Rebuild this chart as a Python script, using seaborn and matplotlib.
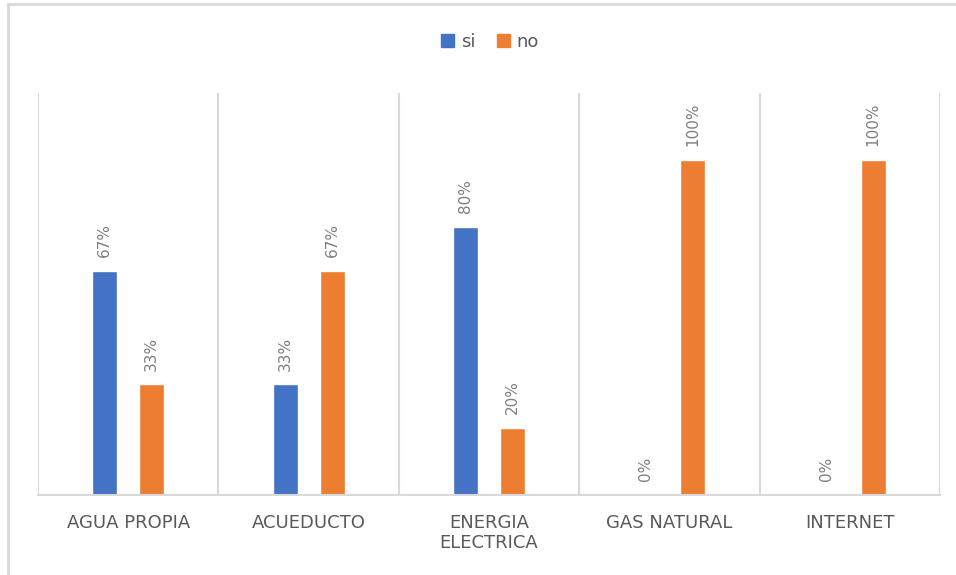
import pandas as pd
import numpy as np
import matplotlib.pyplot as plt
import seaborn as sns
from matplotlib.lines import Line2D

categories = ["AGUA PROPIA", "ACUEDUCTO", "ENERGIA\nELECTRICA", "GAS NATURAL", "INTERNET"]
si_values = [0.67, 0.33, 0.80, 0.00, 0.00]
no_values = [0.33, 0.67, 0.20, 1.00, 1.00]
series_names = ["si", "no"]
series_colors = ["#4472C4", "#ED7D31"]

GRID_COLOR = "#d9d9d9"
TEXT_COLOR = "#595959"
LABEL_COLOR = "#7f7f7f"


def build_frame():
    df = pd.DataFrame({"category": categories, "si": si_values, "no": no_values})
    return df.melt(id_vars="category", var_name="serie", value_name="valor")


def main():
    sns.set_style("white")
    plt.rcParams["font.family"] = ["DejaVu Sans"]

    data = build_frame()
    fig = plt.figure(figsize=(9.56, 5.75), dpi=100)
    ax = fig.add_axes([38 / 956, 80 / 575, 902 / 956, 402 / 575])

    sns.barplot(data=data, x="category", y="valor", hue="serie",
                hue_order=series_names, palette=series_colors,
                width=0.52, gap=0.465, saturation=1, legend=False, ax=ax)

    for container in ax.containers:
        ax.bar_label(container, labels=[f"{v:.0%}" for v in container.datavalues],
                     rotation=90, padding=10, color=LABEL_COLOR, fontsize=11)

    ax.set_ylim(0, 1.2)
    ax.set_xlim(-0.5, len(categories) - 0.5)
    ax.set_yticks([])
    ax.set_xlabel("")
    ax.set_ylabel("")

    # vertical separators between categories, Excel style
    ax.set_xticks(np.arange(-0.5, len(categories)), minor=True)
    ax.grid(which="minor", axis="x", color=GRID_COLOR, linewidth=1.5)
    ax.tick_params(axis="x", which="both", length=0, pad=14,
                   labelsize=13, labelcolor=TEXT_COLOR)
    ax.set_xticks(range(len(categories)))
    ax.set_xticklabels(categories, linespacing=1.1)

    for side in ["top", "left", "right"]:
        ax.spines[side].set_visible(False)
    ax.spines["bottom"].set_color(GRID_COLOR)
    ax.spines["bottom"].set_linewidth(1.5)

    handles = [plt.Rectangle((0, 0), 1, 1, color=c) for c in series_colors]
    fig.legend(handles, series_names, loc="center", bbox_to_anchor=(490 / 956, 1 - 42 / 575),
               ncol=2, frameon=False, fontsize=13, labelcolor=TEXT_COLOR,
               handlelength=0.7, handleheight=0.7, handletextpad=0.4, columnspacing=1.2)

    # outer chart frame (only top and left visible in the crop)
    fig.add_artist(Line2D([8 / 956, 8 / 956], [0, 1 - 3.5 / 575],
                          transform=fig.transFigure, color=GRID_COLOR, linewidth=2))
    fig.add_artist(Line2D([8 / 956, 1], [1 - 3.5 / 575, 1 - 3.5 / 575],
                          transform=fig.transFigure, color=GRID_COLOR, linewidth=2))

    fig.savefig("out.png", dpi=100)


if __name__ == "__main__":
    main()
